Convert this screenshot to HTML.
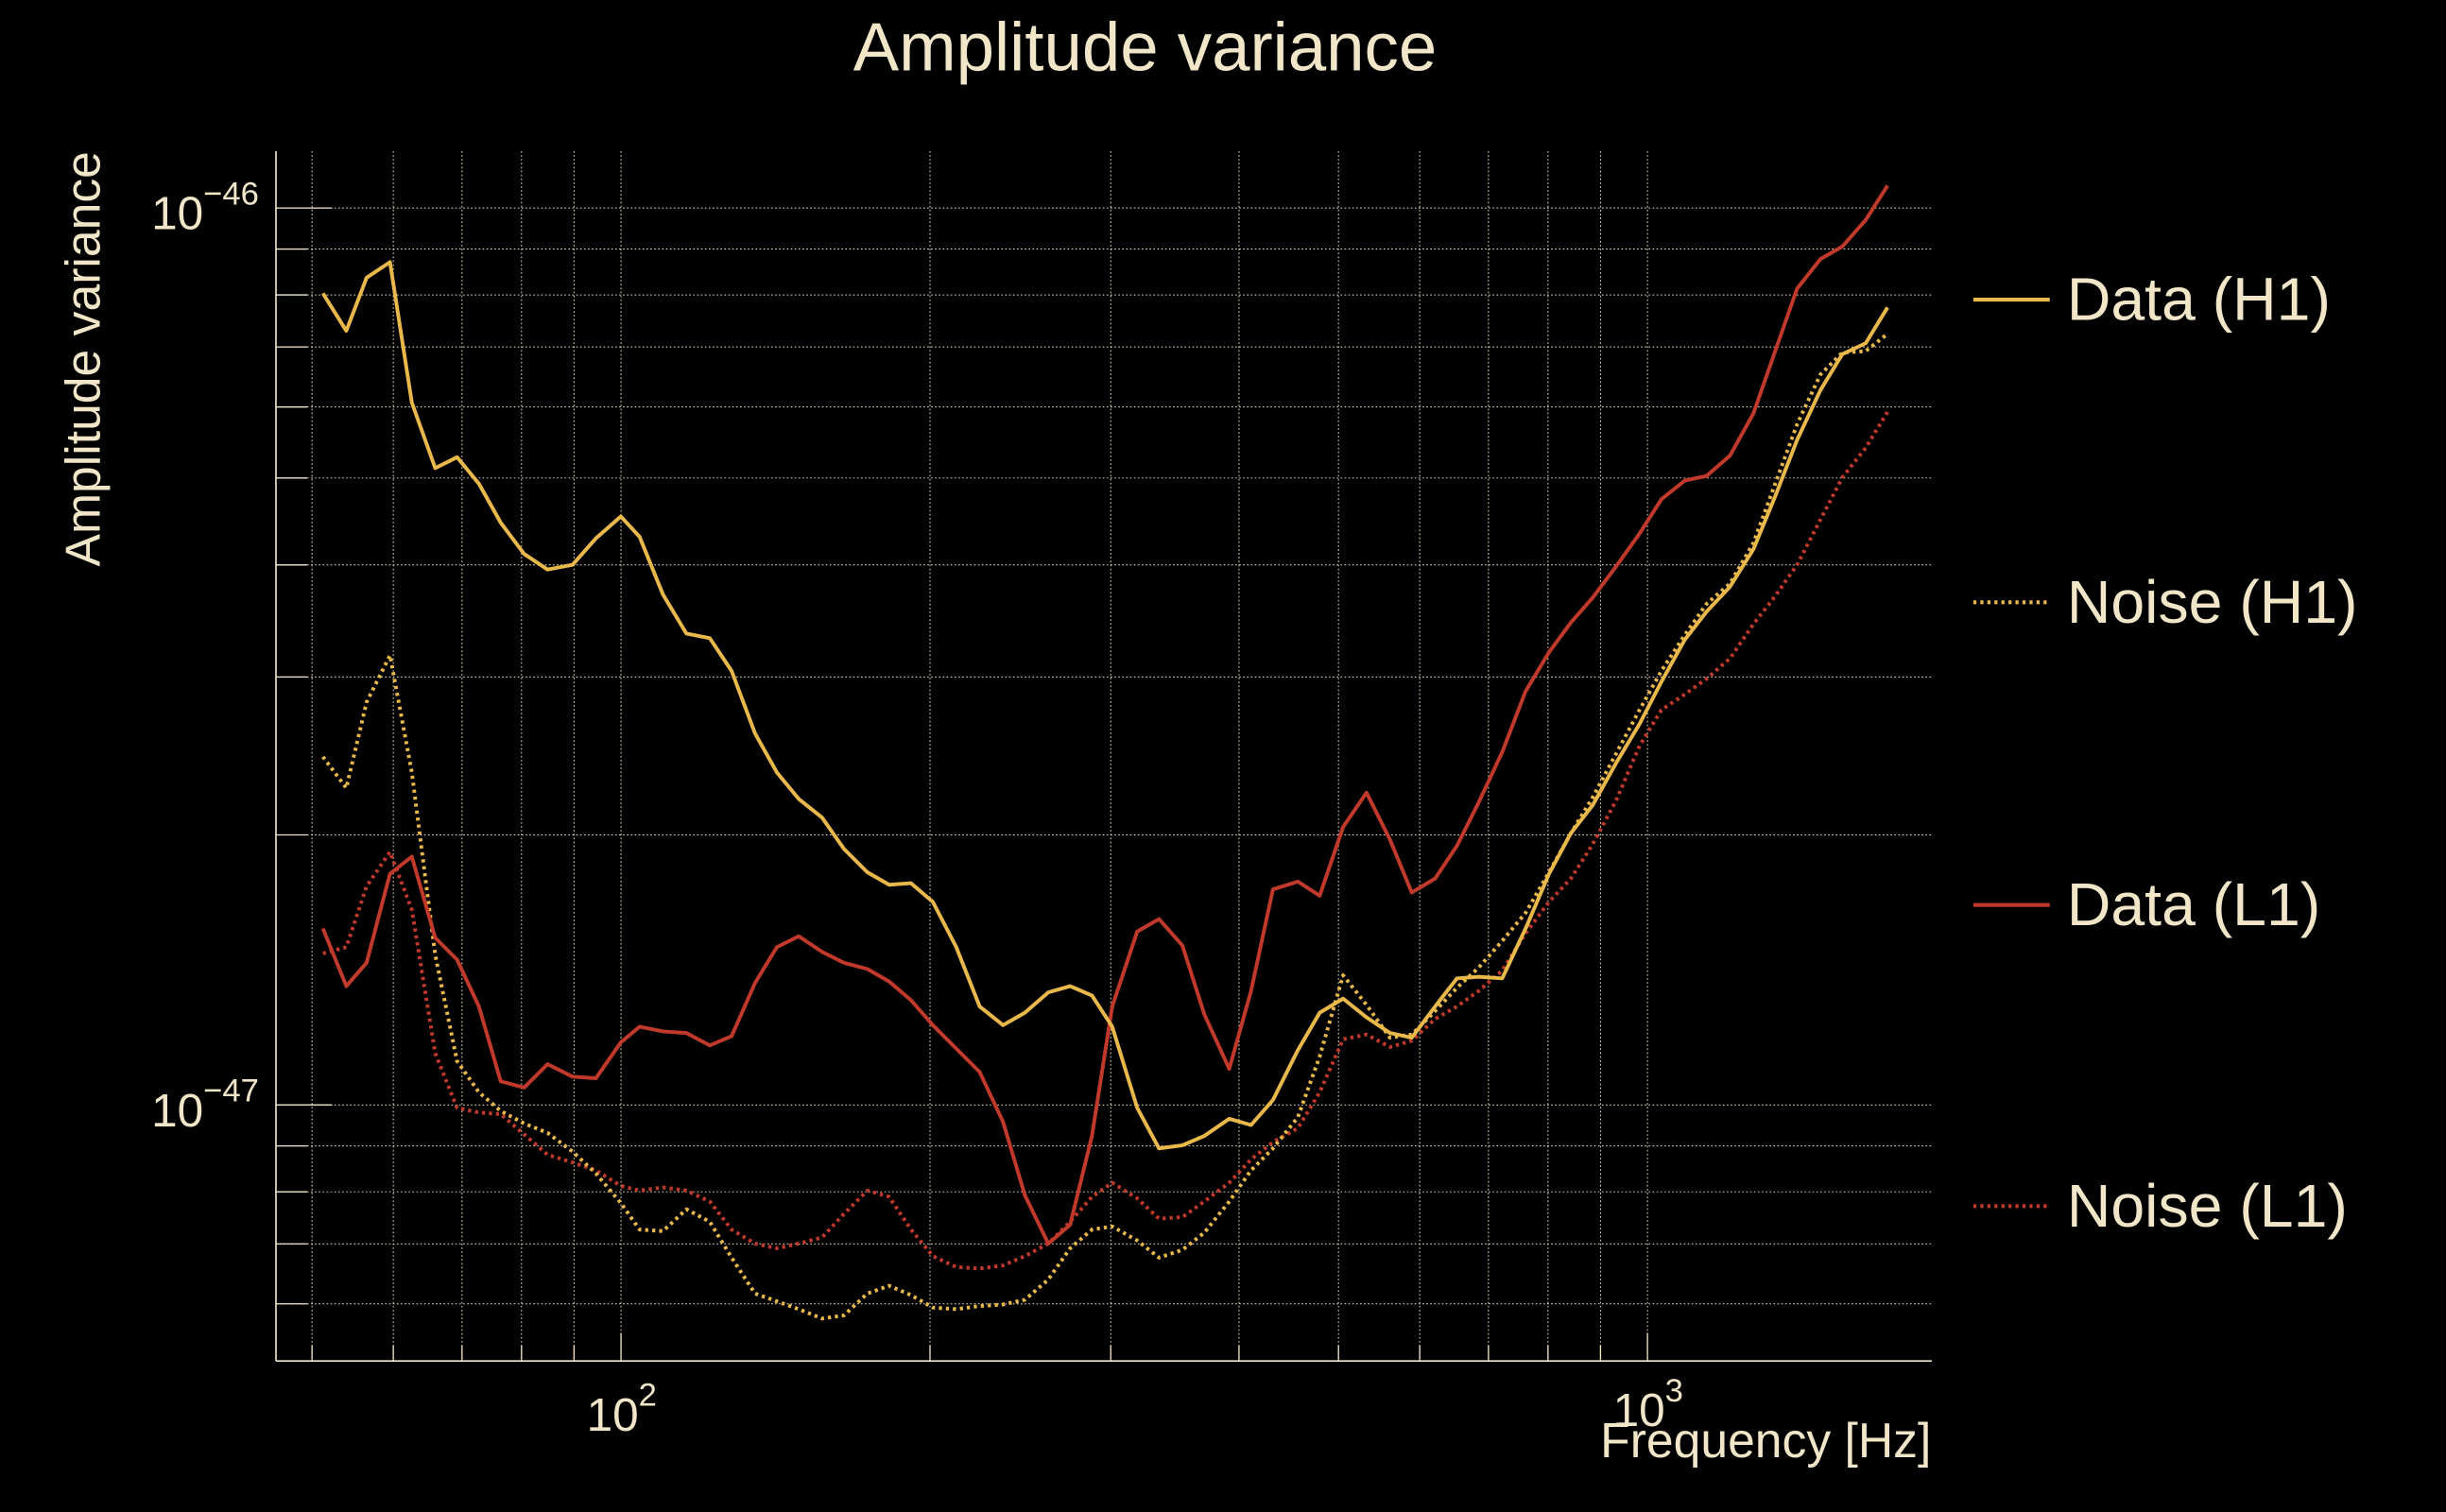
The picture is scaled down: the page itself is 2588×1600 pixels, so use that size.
<!DOCTYPE html>
<html><head><meta charset="utf-8"><style>
html,body{margin:0;padding:0;background:#000;width:2588px;height:1600px;overflow:hidden}
svg{display:block}
text{font-family:"Liberation Sans",sans-serif;fill:#f2e6c9}
</style></head><body>
<svg id="s" width="2588" height="1600" viewBox="0 0 1568 969" preserveAspectRatio="none" xmlns="http://www.w3.org/2000/svg">
<rect x="0" y="0" width="1568" height="969" fill="#000"/>
<g id="grid"></g>
<g id="series" fill="none" stroke-linejoin="round"></g>
<line x1="176.9" y1="96.9" x2="176.9" y2="872.2" stroke="#f2e6c9" stroke-width="1"/>
<line x1="176.9" y1="872.2" x2="1238.4" y2="872.2" stroke="#f2e6c9" stroke-width="1"/>
<text x="734" y="45" font-size="44" text-anchor="middle">Amplitude variance</text>
<text transform="translate(64,230) rotate(-90)" font-size="31.3" text-anchor="middle">Amplitude variance</text>
<text x="1238" y="934" font-size="31.3" text-anchor="end">Frequency [Hz]</text>
<text x="97" y="147" font-size="30">10<tspan dy="-16" font-size="21">−46</tspan></text>
<text x="97" y="722" font-size="30">10<tspan dy="-16" font-size="21">−47</tspan></text>
<text x="376" y="917" font-size="30">10<tspan dy="-16" font-size="21">2</tspan></text>
<text x="1034" y="914" font-size="30">10<tspan dy="-16" font-size="21">3</tspan></text>
<g font-size="39">
<line x1="1265" y1="192" x2="1314" y2="192" stroke="#e8b84a" stroke-width="2.5"/>
<text x="1325" y="205">Data (H1)</text>
<line x1="1265" y1="386" x2="1314" y2="386" stroke="#e8b84a" stroke-width="2.5" stroke-dasharray="2,2.5"/>
<text x="1325" y="399">Noise (H1)</text>
<line x1="1265" y1="580" x2="1314" y2="580" stroke="#c0392b" stroke-width="2.5"/>
<text x="1325" y="593">Data (L1)</text>
<line x1="1265" y1="773" x2="1314" y2="773" stroke="#c0392b" stroke-width="2.5" stroke-dasharray="2,2.5"/>
<text x="1325" y="786">Noise (L1)</text>
</g>
</svg>
<script>
(function(){
var NS="http://www.w3.org/2000/svg";
var L=176.9,R=1238.4,T=96.9,B=872.2;
function X(f){return 398.1+658*Math.log10(f/100);}
function Y(v){return 133.3-574.8*(Math.log10(v)+46);}
var g=document.getElementById('grid');
function line(x1,y1,x2,y2,attrs){var l=document.createElementNS(NS,'line');l.setAttribute('x1',x1);l.setAttribute('y1',y1);l.setAttribute('x2',x2);l.setAttribute('y2',y2);for(var k in attrs)l.setAttribute(k,attrs[k]);g.appendChild(l);}
var gs={stroke:'#f2e6c9','stroke-width':0.6,'stroke-dasharray':'1,1.5'};
var ts={stroke:'#f2e6c9','stroke-width':0.8};
var fs=[50,60,70,80,90,100,200,300,400,500,600,700,800,900,1000];
fs.forEach(function(f){var x=X(f);line(x,T,x,B,gs);var major=(f==100||f==1000);line(x,B,x,B-(major?18:10),ts);});
var vs=[6e-48,7e-48,8e-48,9e-48,1e-47,2e-47,3e-47,4e-47,5e-47,6e-47,7e-47,8e-47,9e-47,1e-46];
vs.forEach(function(v){var y=Y(v);line(L,y,R,y,gs);var major=(v==1e-47||v==1e-46);line(L,y,L+(major?36:20),y,ts);});
var xs=[207,222,235,250,264,279,293,307,321,336,351,367,382,398,410,425,440,455,469,484,498,512,527,541,556,570,584,598,613,628,643,657,672,686,700,713,729,743,758,772,788,802,816,832,846,861,876,891,905,920,934,948,963,978,993,1007,1021,1036,1051,1065,1080,1094,1109,1124,1138,1152,1167,1181,1196,1210];
var dH=[188,212,178,168,258,300,293,310,335,355,365,362,345,331,344,381,406,409,430,470,495,512,524,544,559,567,566,578,607,645,657,649,636,632,638,658,710,736,734,728,717,721,705,673,649,640,652,662,665,645,627,626,627,595,560,534,516,489,464,437,410,392,376,352,318,282,250,227,220,197];
var nH=[485,505,450,420,495,612,680,700,712,720,726,738,752,771,788,789,775,783,806,829,834,839,845,843,829,824,830,838,839,837,836,833,820,800,788,786,795,806,801,790,770,750,736,716,677,625,644,665,663,648,633,620,603,585,559,534,511,483,455,430,407,387,374,348,310,272,240,226,225,214];
var dL=[595,632,617,560,549,601,615,645,693,697,682,690,691,668,658,661,662,670,664,630,607,600,610,617,621,629,641,657,672,687,719,766,797,785,728,645,597,589,606,650,685,635,570,565,574,530,508,538,572,563,542,514,482,443,418,399,383,363,342,320,308,305,292,265,225,185,166,158,141,119];
var nL=[611,607,568,546,583,675,710,713,714,727,740,745,750,760,763,761,763,770,788,797,800,797,793,778,763,767,788,805,812,813,811,805,797,783,767,758,768,781,780,770,758,743,732,723,700,666,663,671,667,653,645,635,622,598,578,563,541,513,478,455,445,435,422,400,382,362,333,306,287,264];
var s=document.getElementById('series');
function poly(ys,col,dash){var p=document.createElementNS(NS,'polyline');p.setAttribute('points',xs.map(function(x,i){return x+','+ys[i];}).join(' '));p.setAttribute('stroke',col);p.setAttribute('stroke-width','2.4');if(dash)p.setAttribute('stroke-dasharray','2,2.5');s.appendChild(p);}
poly(nL,'#c0392b',true);poly(nH,'#e8b84a',true);poly(dL,'#c0392b',false);poly(dH,'#e8b84a',false);
})();
</script>
</body></html>
